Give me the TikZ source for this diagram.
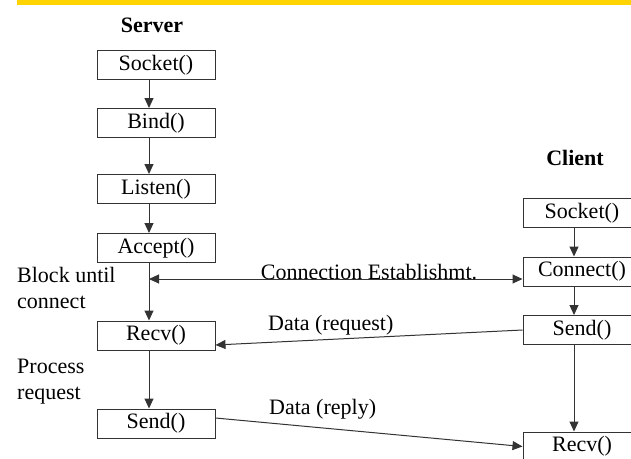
\documentclass[tikz,border=0pt]{standalone}
\usepackage{fontspec}
\setmainfont{Liberation Serif}
\usetikzlibrary{positioning,arrows.meta}
\definecolor{bargold}{RGB}{255,212,0}

\begin{document}
\begin{tikzpicture}[x=1pt,y=-1pt,
  callbox/.style={draw=black!80,line width=1pt,minimum width=118pt,minimum height=29pt,
    inner sep=0pt,font=\fontsize{22}{26}\selectfont},
  flow/.style={draw=black!80,line width=1pt,-{Triangle[length=10pt,width=9pt]}},
  twoway/.style={flow,{Triangle[length=10pt,width=9pt]}-{Triangle[length=10pt,width=9pt]}},
  lbl/.style={inner sep=0pt,font=\fontsize{22}{26}\selectfont},
  hdr/.style={inner sep=0pt,font=\fontsize{22}{26}\selectfont\bfseries},
  side/.style={lbl,align=left,anchor=north west}]
\useasboundingbox (0,0) rectangle (631,458);
\clip (0,0) rectangle (631,458);
% header bar
\fill[bargold] (17,0) rectangle (631,5);
% titles
\node[hdr,anchor=base] (srv) at (152,32) {Server};
\node[hdr,anchor=base] (cli) at (575,165) {Client};
% server calls
\node[callbox] (ssock) at (156,65) {Socket()};
\node[callbox] (sbind) at (156,123) {Bind()};
\node[callbox] (slisten) at (156,189) {Listen()};
\node[callbox] (saccept) at (156,248) {Accept()};
\node[callbox] (srecv) at (156,335.5) {Recv()};
\node[callbox] (ssend) at (156,423.5) {Send()};
% client calls
\node[callbox] (csock) at (582,213) {Socket()};
\node[callbox] (cconn) at (582,271.5) {Connect()};
\node[callbox] (csend) at (582,330) {Send()};
\node[callbox] (crecv) at (582,446.5) {Recv()};
% flow down each side
\foreach \a/\b in {ssock/sbind,sbind/slisten,slisten/saccept,saccept/srecv,srecv/ssend}
  \draw[flow] ([xshift=-7pt]\a.south) -- ([xshift=-7pt]\b.north);
\foreach \a/\b in {csock/cconn,cconn/csend,csend/crecv}
  \draw[flow] ([xshift=-8pt]\a.south) -- ([xshift=-8pt]\b.north);
% messages between them
\coordinate (blk) at (149,279);
\draw[twoway] (blk) -- ([yshift=-7.5pt]cconn.west);
\draw[flow] (csend.west) -- ([yshift=-9.5pt]srecv.east);
\draw[flow] ([yshift=5.5pt]ssend.east) -- (crecv.west);
% labels
\node[lbl,anchor=base] (estab) at (369,279) {Connection Establishmt.};
\node[lbl,anchor=base west] (dreq) at (268,330) {Data (request)};
\node[lbl,anchor=base west] (drep) at (269,414) {Data (reply)};
\node[side] (blkn) at (17,267) {Block until\\connect};
\node[side] (proc) at (17,359) {Process\\request};
\end{tikzpicture}
\end{document}
